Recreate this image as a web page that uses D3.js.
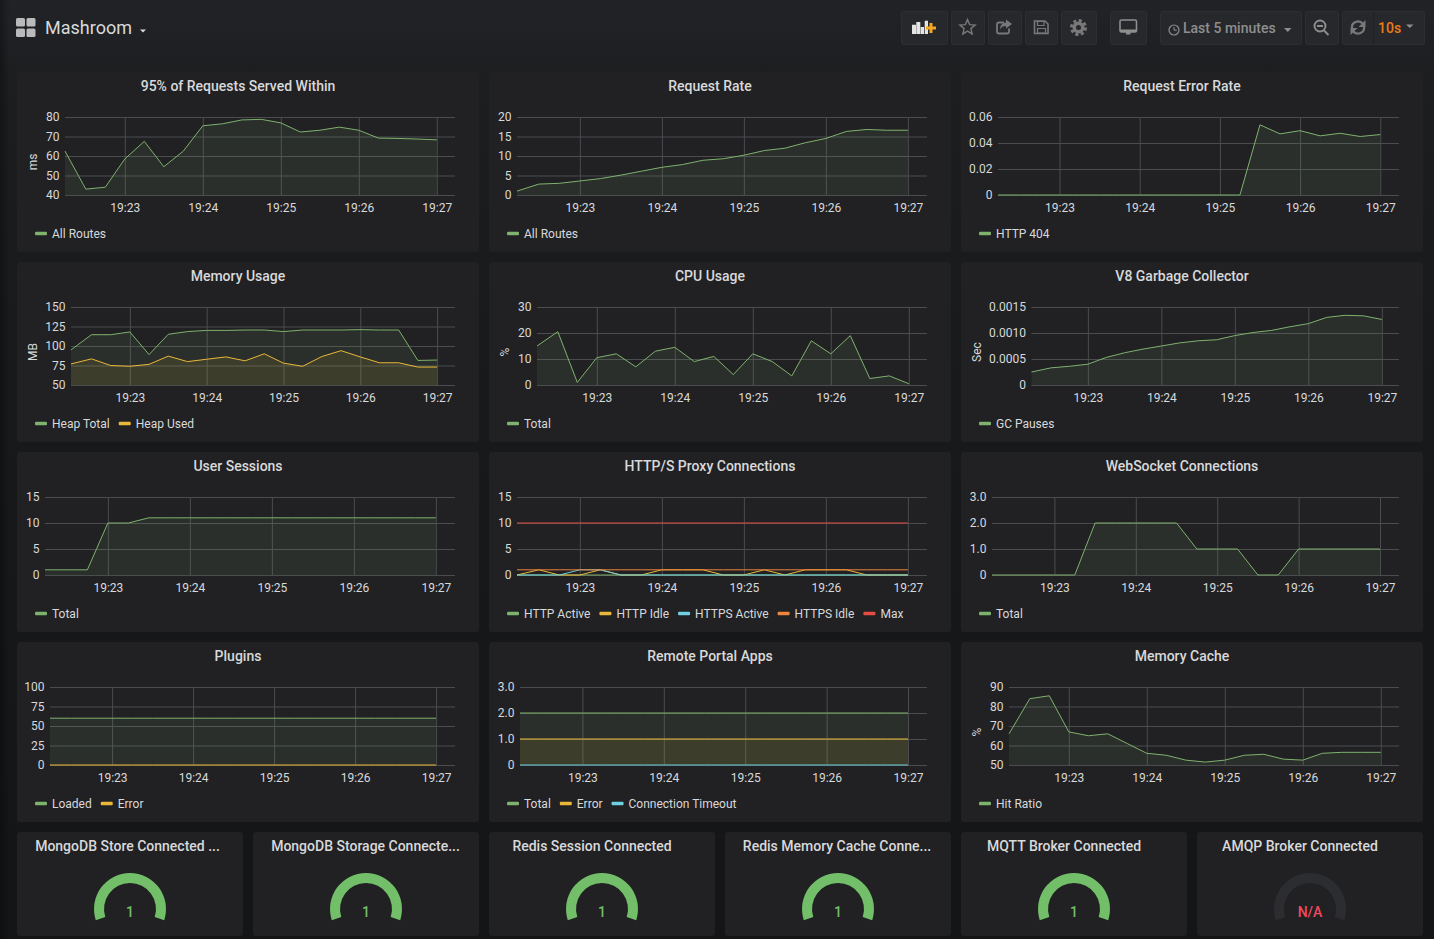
<!DOCTYPE html>
<html>
<head>
<meta charset="utf-8">
<title>Mashroom</title>
<script src="https://cdnjs.cloudflare.com/ajax/libs/d3/7.8.5/d3.min.js"></script>
<style>
    html, body { margin: 0; padding: 0; background: #161719; overflow: hidden; }
    svg { display: block; font-family: Roboto, sans-serif; }
    .tick text { font-size: 12px; fill: #d8d9da; font-family: Roboto, sans-serif; }
    .tick line { stroke: #4b4c4e; stroke-width: 1; }
    .domain { display: none; }
    .panel-title { font-size: 14px; font-weight: 500; fill: #d8d9da; text-anchor: middle; }
    .legend-text { font-size: 12px; fill: #d8d9da; }
</style>
</head>
<body>
<div id="container"></div>
<script>
// sample times, every panel shares them
const sampleTimes = ['19:22:14', '19:22:30', '19:22:45', '19:23:00', '19:23:15', '19:23:30', '19:23:45',
    '19:24:00', '19:24:15', '19:24:30', '19:24:45', '19:25:00', '19:25:15', '19:25:30', '19:25:45',
    '19:26:00', '19:26:15', '19:26:30', '19:26:45', '19:27:00'];
const timeDomain = ['19:22:14', '19:27:14'];

const requestsServed = [62.5, 43, 44, 58.5, 67.5, 54.5, 62.5, 75.5, 76.5, 78.5, 78.8, 77, 72.3, 73.2, 74.8, 73.2, 69.2, 69, 68.7, 68.3];
const requestRate = [1, 2.8, 3, 3.6, 4.2, 5.1, 6.1, 7.1, 7.8, 8.9, 9.3, 10.2, 11.4, 12, 13.4, 14.5, 16.3, 16.8, 16.6, 16.6];
const requestErrors = [0, 0, 0, 0, 0, 0, 0, 0, 0, 0, 0, 0, 0, 0.054, 0.047, 0.0495, 0.0455, 0.0475, 0.045, 0.0465];
const heapTotal = [95, 114.5, 114.5, 118, 89, 115, 118.5, 120, 120, 120.5, 120.5, 118.5, 120.5, 120.5, 120.5, 121, 120.5, 120.5, 81.5, 82];
const heapUsed = [77, 83.5, 75, 74, 76.5, 87, 80, 83, 86, 81, 90, 78, 74, 86.5, 94, 86, 78.5, 78.5, 73, 73];
const cpuTotal = [15, 20.5, 1, 10.5, 12, 7, 13, 14.5, 9, 11, 4, 12, 9, 3.5, 17, 12, 19, 2.5, 3.5, 0.5];
const gcPauses = [0.00025, 0.00033, 0.00036, 0.0004, 0.00053, 0.00062, 0.00069, 0.00075, 0.00081, 0.00085, 0.00087, 0.00095, 0.00101, 0.00105, 0.00112, 0.00118, 0.0013, 0.00134, 0.00133, 0.00126];
const userSessions = [1, 1, 1, 10, 10, 11, 11, 11, 11, 11, 11, 11, 11, 11, 11, 11, 11, 11, 11, 11];
const httpActive = [0, 0, 0, 0, 0, 0, 0, 0, 0, 0, 0, 0, 0, 0, 0, 0, 0, 0, 0, 0];
const httpIdle = [0, 1, 0, 0, 1, 0, 0, 1, 1, 1, 0, 0, 1, 0, 1, 1, 1, 0, 0, 0];
const httpsActive = [0, 0, 0, 1, 1, 0, 0, 0, 0, 0, 0, 0, 0, 0, 0, 0, 0, 0, 0, 0];
const httpsIdle = [1, 1, 1, 1, 1, 1, 1, 1, 1, 1, 1, 1, 1, 1, 1, 1, 1, 1, 1, 1];
const proxyMax = [10, 10, 10, 10, 10, 10, 10, 10, 10, 10, 10, 10, 10, 10, 10, 10, 10, 10, 10, 10];
const wsConnections = [0, 0, 0, 0, 0, 2, 2, 2, 2, 2, 1, 1, 1, 0, 0, 1, 1, 1, 1, 1];
const pluginsLoaded = [60, 60, 60, 60, 60, 60, 60, 60, 60, 60, 60, 60, 60, 60, 60, 60, 60, 60, 60, 60];
const pluginsError = [0, 0, 0, 0, 0, 0, 0, 0, 0, 0, 0, 0, 0, 0, 0, 0, 0, 0, 0, 0];
const appsTotal = [2, 2, 2, 2, 2, 2, 2, 2, 2, 2, 2, 2, 2, 2, 2, 2, 2, 2, 2, 2];
const appsError = [1, 1, 1, 1, 1, 1, 1, 1, 1, 1, 1, 1, 1, 1, 1, 1, 1, 1, 1, 1];
const appsTimeout = [0, 0, 0, 0, 0, 0, 0, 0, 0, 0, 0, 0, 0, 0, 0, 0, 0, 0, 0, 0];
const cacheHitRatio = [66, 84, 85.5, 67, 65, 66, 61, 56, 55, 52.5, 51.5, 52.5, 55, 55.5, 53, 52.5, 56, 56.5, 56.5, 56.5];

const gaugeTitles = ['MongoDB Store Connected ...', 'MongoDB Storage Connecte...', 'Redis Session Connected',
    'Redis Memory Cache Conne...', 'MQTT Broker Connected', 'AMQP Broker Connected'];
const gaugeValues = [1, 1, 1, 1, 1, null];

const green = '#7eb26d', yellow = '#eab839', cyan = '#6ed0e0', orange = '#ef843c', red = '#e24d42';

const fmt0 = d => d === 0 ? '0' : d3.format('d')(d);
const fmt1 = d => d === 0 ? '0' : d3.format('.1f')(d);
const fmt2 = d => d === 0 ? '0' : d3.format('.2f')(d);
const fmt4 = d => d === 0 ? '0' : d3.format('.4f')(d);

const panels = [
    { title: '95% of Requests Served Within', unit: 'ms', ticks: [40, 50, 60, 70, 80], format: fmt0,
        series: [{ name: 'All Routes', values: requestsServed, color: green }] },
    { title: 'Request Rate', ticks: [0, 5, 10, 15, 20], format: fmt0,
        series: [{ name: 'All Routes', values: requestRate, color: green }] },
    { title: 'Request Error Rate', ticks: [0, 0.02, 0.04, 0.06], format: fmt2,
        series: [{ name: 'HTTP 404', values: requestErrors, color: green }] },
    { title: 'Memory Usage', unit: 'MB', ticks: [50, 75, 100, 125, 150], format: fmt0,
        series: [{ name: 'Heap Total', values: heapTotal, color: green }, { name: 'Heap Used', values: heapUsed, color: yellow }] },
    { title: 'CPU Usage', unit: '%', ticks: [0, 10, 20, 30], format: fmt0,
        series: [{ name: 'Total', values: cpuTotal, color: green }] },
    { title: 'V8 Garbage Collector', unit: 'Sec', ticks: [0, 0.0005, 0.001, 0.0015], format: fmt4,
        series: [{ name: 'GC Pauses', values: gcPauses, color: green }] },
    { title: 'User Sessions', ticks: [0, 5, 10, 15], format: fmt0,
        series: [{ name: 'Total', values: userSessions, color: green }] },
    { title: 'HTTP/S Proxy Connections', ticks: [0, 5, 10, 15], format: fmt0, noFill: true,
        series: [{ name: 'HTTP Active', values: httpActive, color: green }, { name: 'HTTP Idle', values: httpIdle, color: yellow },
            { name: 'HTTPS Active', values: httpsActive, color: cyan }, { name: 'HTTPS Idle', values: httpsIdle, color: orange },
            { name: 'Max', values: proxyMax, color: red }] },
    { title: 'WebSocket Connections', ticks: [0, 1, 2, 3], format: fmt1,
        series: [{ name: 'Total', values: wsConnections, color: green }] },
    { title: 'Plugins', ticks: [0, 25, 50, 75, 100], format: fmt0,
        series: [{ name: 'Loaded', values: pluginsLoaded, color: green }, { name: 'Error', values: pluginsError, color: yellow }] },
    { title: 'Remote Portal Apps', ticks: [0, 1, 2, 3], format: fmt1,
        series: [{ name: 'Total', values: appsTotal, color: green }, { name: 'Error', values: appsError, color: yellow },
            { name: 'Connection Timeout', values: appsTimeout, color: cyan }] },
    { title: 'Memory Cache', unit: '%', ticks: [50, 60, 70, 80, 90], format: fmt0,
        series: [{ name: 'Hit Ratio', values: cacheHitRatio, color: green }] },
];

// left edge of each plot, measured from the panel edge
const plotLefts = [48, 28, 37, 54, 48, 70.5, 28, 28, 31, 33, 31, 48];
const colX = [17, 489, 961];
const rowY = [72, 262, 452, 642];
const panelW = 462, panelH = 180;
const titleShift = -10;

const width = 1434, height = 939;
const svg = d3.select('#container').append('svg')
    .attr('width', width)
    .attr('height', height);

const defs = svg.append('defs');
const bg = defs.append('linearGradient').attr('id', 'bg').attr('x1', 0).attr('y1', 0).attr('x2', 0).attr('y2', 1);
bg.append('stop').attr('offset', '0%').attr('stop-color', '#222327');
bg.append('stop').attr('offset', '8%').attr('stop-color', '#1d1e20');
bg.append('stop').attr('offset', '40%').attr('stop-color', '#18191b');
bg.append('stop').attr('offset', '100%').attr('stop-color', '#141517');
const edge = defs.append('linearGradient').attr('id', 'edge');
edge.append('stop').attr('offset', '0%').attr('stop-color', '#000').attr('stop-opacity', 0.3);
edge.append('stop').attr('offset', '100%').attr('stop-color', '#000').attr('stop-opacity', 0);
svg.append('rect').attr('width', width).attr('height', height).attr('fill', 'url(#bg)');
svg.append('rect').attr('width', 10).attr('height', height).attr('fill', 'url(#edge)');

const parseTime = d3.timeParse('%H:%M:%S');
const times = sampleTimes.map(parseTime);

panels.forEach((panel, i) => {
    const px = colX[i % 3];
    const py = rowY[Math.floor(i / 3)];
    const g = svg.append('g').attr('transform', `translate(${px},${py})`);

    g.append('rect')
        .attr('width', panelW)
        .attr('height', panelH)
        .attr('rx', 3)
        .attr('fill', '#212124');

    g.append('text')
        .attr('class', 'panel-title')
        .attr('x', panelW / 2 + titleShift)
        .attr('y', 19)
        .text(panel.title);

    const left = plotLefts[i];
    const right = panelW - 24;
    const top = 45, bottom = 123;

    const xScale = d3.scaleTime()
        .domain(timeDomain.map(parseTime))
        .range([left, right]);
    const yScale = d3.scaleLinear()
        .domain(d3.extent(panel.ticks))
        .range([bottom, top]);

    const xAxis = d3.axisBottom(xScale)
        .ticks(d3.timeMinute.every(1))
        .tickFormat(d3.timeFormat('%H:%M'))
        .tickSize(-(bottom - top))
        .tickPadding(8);
    g.append('g')
        .attr('transform', `translate(0,${bottom})`)
        .call(xAxis);

    const yAxis = d3.axisLeft(yScale)
        .tickValues(panel.ticks)
        .tickFormat(panel.format)
        .tickSize(-(right - left))
        .tickPadding(5.5);
    g.append('g')
        .attr('transform', `translate(${left},0)`)
        .call(yAxis);

    if (panel.unit) {
        g.append('text')
            .attr('transform', `translate(16,${(top + bottom) / 2 + 6}) rotate(-90)`)
            .attr('dy', '0.35em')
            .attr('text-anchor', 'middle')
            .attr('font-size', 12)
            .attr('fill', '#d8d9da')
            .text(panel.unit);
    }

    const line = d3.line()
        .x((d, k) => xScale(times[k]))
        .y(d => yScale(d))
        .curve(d3.curveLinear);
    const area = d3.area()
        .x((d, k) => xScale(times[k]))
        .y0(bottom)
        .y1(d => yScale(d))
        .curve(d3.curveLinear);

    panel.series.forEach(s => {
        if (!panel.noFill) {
            g.append('path')
                .datum(s.values)
                .attr('d', area)
                .attr('fill', s.color)
                .attr('fill-opacity', 0.1);
        }
        g.append('path')
            .datum(s.values)
            .attr('d', line)
            .attr('fill', 'none')
            .attr('stroke', s.color)
            .attr('stroke-width', 1);
    });

    // legend, laid out from the measured text widths
    let lx = 18;
    panel.series.forEach(s => {
        g.append('rect')
            .attr('x', lx)
            .attr('y', 159.75)
            .attr('width', 12)
            .attr('height', 3.5)
            .attr('rx', 1)
            .attr('fill', s.color);
        const label = g.append('text')
            .attr('class', 'legend-text')
            .attr('x', lx + 17)
            .attr('y', 166)
            .text(s.name);
        lx += 17 + label.node().getComputedTextLength() + 9;
    });
});

// singlestat gauges
const gaugeX = [17, 253, 489, 725, 961, 1197];
const gaugeTitleShifts = [-2.5, -0.5, -10, -1, -10, -10];
const gaugeW = 226, gaugeTop = 832, gaugeH = 104;
const gaugeAngle = d3.scaleLinear().domain([0, 1]).range([-108, 108].map(d => d * Math.PI / 180));

gaugeTitles.forEach((title, i) => {
    const g = svg.append('g').attr('transform', `translate(${gaugeX[i]},${gaugeTop})`);
    g.append('rect')
        .attr('width', gaugeW)
        .attr('height', gaugeH)
        .attr('rx', 3)
        .attr('fill', '#212124');
    g.append('text')
        .attr('class', 'panel-title')
        .attr('x', gaugeW / 2 + gaugeTitleShifts[i])
        .attr('y', 19)
        .text(title);

    const value = gaugeValues[i];
    const center = g.append('g').attr('transform', `translate(${gaugeW / 2},77)`);
    const arc = d3.arc().innerRadius(26).outerRadius(36).startAngle(gaugeAngle(0));
    center.append('path')
        .attr('d', arc({ endAngle: gaugeAngle(value === null ? 1 : value) }))
        .attr('fill', value === null ? '#2c2d30' : '#73bf69');
    center.append('text')
        .attr('text-anchor', 'middle')
        .attr('y', 8)
        .attr('font-size', 14)
        .attr('font-weight', 500)
        .attr('fill', value === null ? '#f2495c' : '#73bf69')
        .text(value === null ? 'N/A' : value);
});

// top bar
const header = svg.append('g');
[[16, 18], [26.5, 18], [16, 28.5], [26.5, 28.5]].forEach(d => {
    header.append('rect')
        .attr('x', d[0]).attr('y', d[1])
        .attr('width', 9).attr('height', 8.5)
        .attr('rx', 1.5)
        .attr('fill', '#b9babb');
});
header.append('text')
    .attr('x', 45).attr('y', 34)
    .attr('font-size', 18)
    .attr('fill', '#d8d9da')
    .text('Mashroom');
header.append('path').attr('d', 'M140,29.5h6l-3,3z').attr('fill', '#d8d9da');

const buttons = [[901, 46], [951, 33], [988, 33], [1025, 32], [1061, 35], [1110, 36], [1160, 141], [1305, 33], [1342, 82]];
buttons.forEach(d => {
    header.append('rect')
        .attr('x', d[0] + 0.5).attr('y', 11.5)
        .attr('width', d[1]).attr('height', 33)
        .attr('rx', 2)
        .attr('fill', '#27282b')
        .attr('stroke', '#2d2e31');
});

const iconGrey = '#787878', textGrey = '#8e8e8e';
// add-panel icon
header.append('path').attr('d', 'M912,24.7h4v9.3h-4zM916.3,22h4v12h-4zM920.7,27h3.3v7h-3.3zM924.7,20.7h3.3v13.3h-3.3z').attr('fill', '#e4e4e4');
header.append('path').attr('d', 'M929.5,23h3v3.5h3.5v3h-3.5v3.5h-3v-3.5h-3.5v-3h3.5z').attr('fill', '#f5a623');
// star
const star = d3.range(10).map(k => {
    const r = k % 2 ? 3.6 : 8;
    const a = k * Math.PI / 5;
    return [967.5 + r * Math.sin(a), 27.5 - r * Math.cos(a)];
});
header.append('path').attr('d', d3.line()(star) + 'Z').attr('fill', 'none').attr('stroke', iconGrey).attr('stroke-width', 1.4);
// share
header.append('path').attr('d', 'M1004,22.5h-5a2,2 0 0 0 -2,2v7a2,2 0 0 0 2,2h8a2,2 0 0 0 2,-2v-3').attr('fill', 'none').attr('stroke', iconGrey).attr('stroke-width', 1.8);
header.append('path').attr('d', 'M1006,19.5l6,4.5l-6,4.5v-2.5c-3,0 -5,1 -6,3.5c0,-4 2,-6.5 6,-7z').attr('fill', iconGrey);
// save
header.append('path').attr('d', 'M1034.5,21h10.5l3,3v9.5h-13.5z').attr('fill', 'none').attr('stroke', iconGrey).attr('stroke-width', 1.6);
header.append('path').attr('d', 'M1037.5,21.5h6.5v4h-6.5zM1037.5,28.5h8v4.5h-8z').attr('fill', 'none').attr('stroke', iconGrey).attr('stroke-width', 1.2);
// gear
header.append('circle').attr('cx', 1078.5).attr('cy', 27.5).attr('r', 6).attr('fill', iconGrey);
header.append('circle').attr('cx', 1078.5).attr('cy', 27.5).attr('r', 7)
    .attr('fill', 'none').attr('stroke', iconGrey).attr('stroke-width', 3).attr('stroke-dasharray', '3.1 2.4');
header.append('circle').attr('cx', 1078.5).attr('cy', 27.5).attr('r', 2.5).attr('fill', '#27282b');
// monitor
header.append('rect').attr('x', 1120).attr('y', 20).attr('width', 16.5).attr('height', 12).attr('rx', 1.5)
    .attr('fill', 'none').attr('stroke', textGrey).attr('stroke-width', 1.6);
header.append('path').attr('d', 'M1120,29.5h16.5v2.5h-16.5zM1126,32h4.5v2.5h-4.5z').attr('fill', textGrey);
// time range
header.append('circle').attr('cx', 1174).attr('cy', 30).attr('r', 5).attr('fill', 'none').attr('stroke', textGrey).attr('stroke-width', 1.2);
header.append('path').attr('d', 'M1174,27v3.2h2.8').attr('fill', 'none').attr('stroke', textGrey).attr('stroke-width', 1);
header.append('text').attr('x', 1183).attr('y', 33).attr('font-size', 14).attr('font-weight', 500).attr('fill', textGrey).text('Last 5 minutes');
header.append('path').attr('d', 'M1284,28h7.5l-3.75,4z').attr('fill', textGrey);
// zoom out
header.append('circle').attr('cx', 1320).attr('cy', 26).attr('r', 5.5).attr('fill', 'none').attr('stroke', textGrey).attr('stroke-width', 1.9);
header.append('path').attr('d', 'M1317,26h6M1324,30.5l4.5,4.5').attr('fill', 'none').attr('stroke', textGrey).attr('stroke-width', 1.9);
// refresh
const refreshArc = d3.arc().innerRadius(5).outerRadius(7.2);
const refresh = header.append('g').attr('transform', 'translate(1358,27.5)');
refresh.append('path').attr('d', refreshArc({ startAngle: -1.75, endAngle: 0.9 })).attr('fill', iconGrey);
refresh.append('path').attr('d', refreshArc({ startAngle: 1.4, endAngle: 4.05 })).attr('fill', iconGrey);
refresh.append('path').attr('d', 'M7.5,-7.5v7h-7zM-7.5,7.5v-7h7z').attr('fill', iconGrey);
header.append('line').attr('x1', 1373.5).attr('x2', 1373.5).attr('y1', 12).attr('y2', 44).attr('stroke', '#212124');
header.append('text').attr('x', 1378).attr('y', 33).attr('font-size', 14).attr('font-weight', 500).attr('fill', '#eb7b18').text('10s');
header.append('path').attr('d', 'M1406,24.5h7.5l-3.75,3.5z').attr('fill', textGrey);
</script>
</body>
</html>
